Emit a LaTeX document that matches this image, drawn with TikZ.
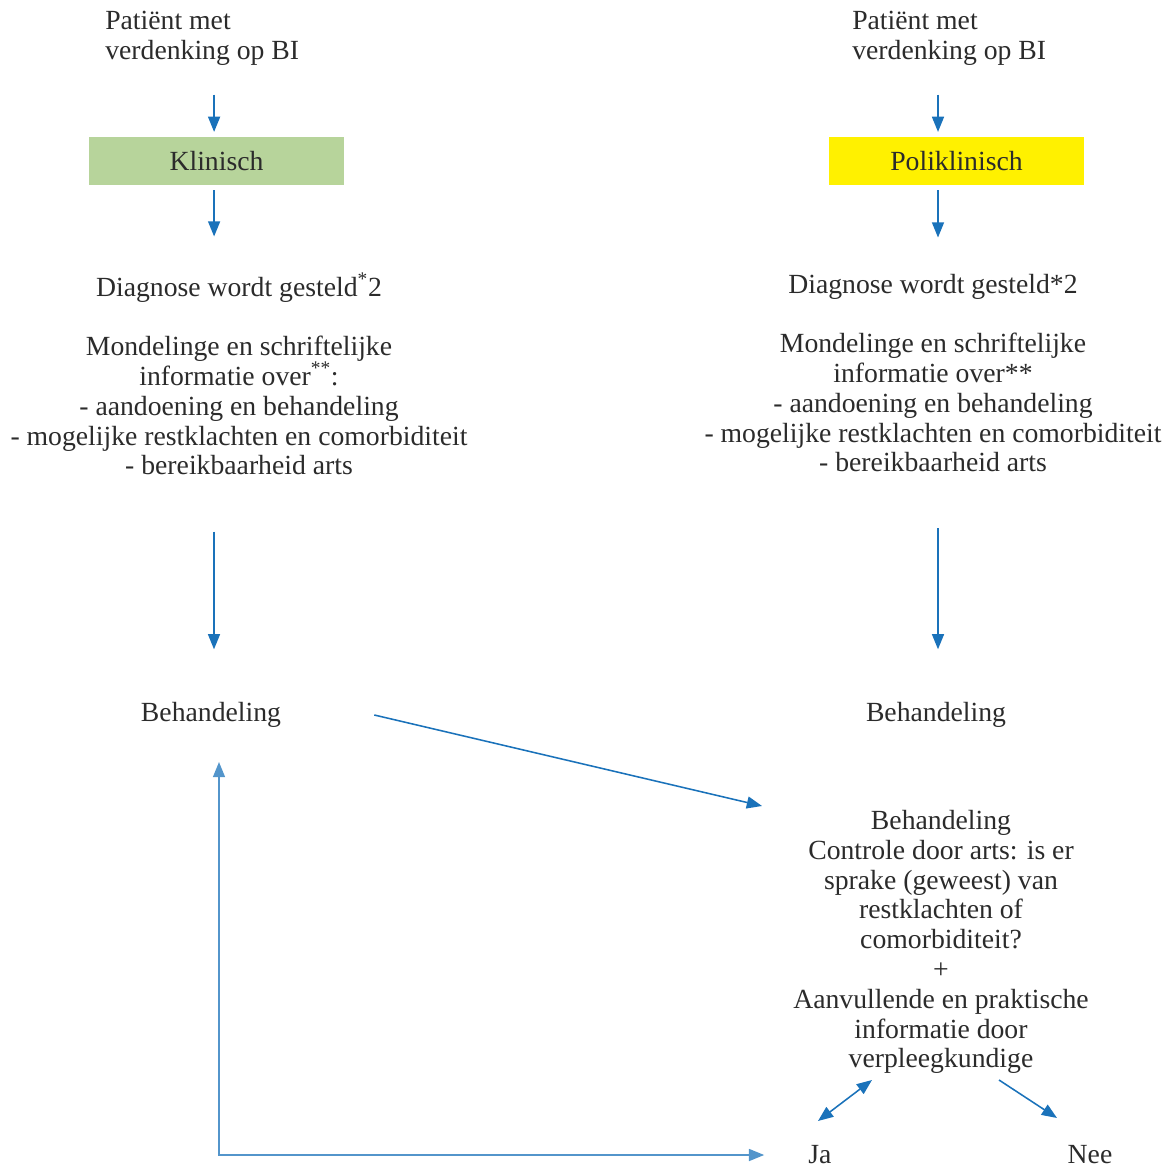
\documentclass[tikz,border=0pt]{standalone}
\usepackage{fontspec}
\setmainfont{Liberation Serif}
\usetikzlibrary{positioning,arrows.meta,calc}
\definecolor{klingreen}{HTML}{B7D49B}
\definecolor{poliyellow}{HTML}{FFF100}
\definecolor{arrblue}{HTML}{1A72BA}
\definecolor{txtgray}{HTML}{2B2B2B}
\tikzset{
  txt/.style={inner sep=0pt,align=center,text=txtgray,
    font=\fontsize{19.7}{21.2}\selectfont},
  kind/.style={txt,minimum width=6.375cm,minimum height=1.2cm},
  arr/.style={-{Triangle[length=0.38cm,width=0.3cm]},draw=arrblue,line width=1.1pt},
  back/.style={arr,{Triangle[length=0.38cm,width=0.3cm]}-{Triangle[length=0.38cm,width=0.3cm]},draw=arrblue!75}
}
\begin{document}
\begin{tikzpicture}[x=0.025cm,y=-0.025cm]
      \useasboundingbox (0,0) rectangle (1173,1169);
      % klinisch
      \node[txt,anchor=west,align=left] (pat1) at (105,38) {Patiënt met\\verdenking op BI};
      \node[kind,fill=klingreen] (klin) at (216.5,161) {Klinisch};
      \node[txt] (info1) at (239,374)
      {Diagnose wordt gesteld\textsuperscript{*}2\\ \mbox{}\\
       Mondelinge en schriftelijke\\informatie over\textsuperscript{**}:\\
       - aandoening en behandeling\\- mogelijke restklachten en comorbiditeit\\
       - bereikbaarheid arts};
      \node[txt] (beh1) at (211,715) {Behandeling};
      % poliklinisch
      \node[txt,anchor=west,align=left] (pat2) at (852,38) {Patiënt met\\verdenking op BI};
      \node[kind,fill=poliyellow] (poli) at (956.5,161) {Poliklinisch};
      \node[txt] (info2) at (933,373)
      {Diagnose wordt gesteld*2\\ \mbox{}\\
       Mondelinge en schriftelijke\\informatie over**\\
       - aandoening en behandeling\\- mogelijke restklachten en comorbiditeit\\
       - bereikbaarheid arts};
      \node[txt] (beh2) at (936,715) {Behandeling};
      \node[txt] (ctrl) at (941,942)
      {Behandeling\\Controle door arts: is er\\sprake (geweest) van\\restklachten of\\comorbiditeit?\\+\\
       Aanvullende en praktische\\informatie door\\verpleegkundige};
      \node[txt] (ja) at (820,1155) {Ja};
      \node[txt] (nee) at (1090,1155) {Nee};
      \coordinate (ret) at (219,762);
      \coordinate (b2c) at (762,806);

      \draw[arr,shorten >=0.12cm] ([xshift=-0.06cm]klin.north) ++(0,-42) -- ([xshift=-0.06cm]klin.north);
      \draw[arr,shorten <=0.12cm,shorten >=0.9cm] ([xshift=-0.06cm]klin.south) -- ([xshift=-0.06cm]klin.south |- info1.north);
      \draw[arr,shorten <=1.4cm,shorten >=1.32cm] ([xshift=0.075cm]beh1 |- info1.south) -- ([xshift=0.075cm]beh1.north);
      \draw[arr,shorten >=0.12cm] ([xshift=0.05cm]poli.north -| beh2) ++(0,-42) -- ([xshift=0.05cm]poli.north -| beh2);
      \draw[arr,shorten <=0.12cm,shorten >=0.9cm] ([xshift=0.05cm]poli.south -| beh2) -- ([xshift=0.05cm]beh2 |- info2.north);
      \draw[arr,shorten <=1.4cm,shorten >=1.32cm] ([xshift=0.05cm]beh2 |- info2.south) -- ([xshift=0.05cm]beh2.north);
      \draw[arr] (beh1.east) ++(93,0) -- (b2c);
      \draw[arr,{Triangle[length=0.38cm,width=0.3cm]}-{Triangle[length=0.38cm,width=0.3cm]}] (ja) ++(-2,-34) -- ++(54,-41);
      \draw[arr] (nee) ++(-91,-75) -- ++(58,38);
      \draw[back,shorten >=1.1cm] (ret) |- (ja.west);
    \end{tikzpicture}
\end{document}
